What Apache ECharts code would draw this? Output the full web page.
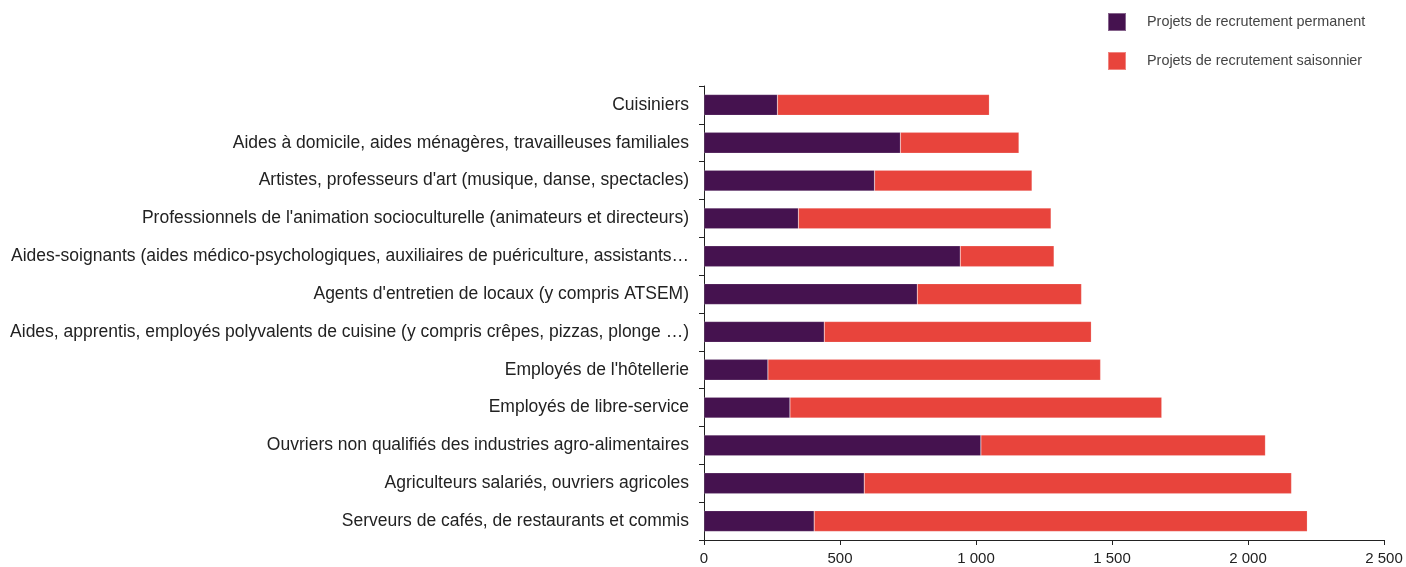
<!DOCTYPE html>
<html><head><meta charset="utf-8">
<script src="https://cdn.jsdelivr.net/npm/echarts@6/dist/echarts.min.js"></script>
<style>html,body{margin:0;padding:0;background:#fff}#c{width:1406px;height:567px}</style>
</head><body><div id="c"></div>
<script>
const categories = [
  "Cuisiniers",
  "Aides à domicile, aides ménagères, travailleuses familiales",
  "Artistes, professeurs d'art (musique, danse, spectacles)",
  "Professionnels de l'animation socioculturelle (animateurs et directeurs)",
  "Aides-soignants (aides médico-psychologiques, auxiliaires de puériculture, assistants…",
  "Agents d'entretien de locaux (y compris ATSEM)",
  "Aides, apprentis, employés polyvalents de cuisine (y compris crêpes, pizzas, plonge …)",
  "Employés de l'hôtellerie",
  "Employés de libre-service",
  "Ouvriers non qualifiés des industries agro-alimentaires",
  "Agriculteurs salariés, ouvriers agricoles",
  "Serveurs de cafés, de restaurants et commis"
];
const permanent = [270, 722, 627, 347, 942, 784, 442, 235, 316, 1018, 589, 405];
const saisonnier = [779, 436, 579, 929, 345, 604, 982, 1223, 1367, 1046, 1571, 1813];
const xTicks = [0, 500, 1000, 1500, 2000, 2500];
const seriesNames = ["Projets de recrutement permanent", "Projets de recrutement saisonnier"];

const chart = echarts.init(document.getElementById('c'), null, {renderer: 'canvas'});
chart.setOption({
  animation: false,
  legend: {
    orient: 'vertical', left: 1107, top: 12, padding: 0,
    itemWidth: 18, itemHeight: 18, itemGap: 19,
    icon: 'rect',
    textStyle: {fontFamily: "'Liberation Sans Narrow', 'Liberation Sans', Arial, sans-serif", fontSize: 14.4, color: '#444', padding: [0,0,0,16], lineHeight: 18},
    data: seriesNames
  },
  grid: {left: 704, right: 22, top: 86, bottom: 27, containLabel: false},
  xAxis: {
    type: 'value', min: 0, max: 2500, interval: 500,
    axisLine: {show: true, lineStyle: {color: '#222'}},
    axisTick: {show: true, length: 5, lineStyle: {color: '#222'}},
    splitLine: {show: false},
    axisLabel: {color: '#222', fontSize: 15, fontFamily: "'Liberation Sans', Arial, sans-serif", margin: 11,
      formatter: v => xTicks.includes(v) ? String(v).replace(/\B(?=(\d{3})+(?!\d))/g, ' ') : ''}
  },
  yAxis: {
    type: 'category', data: categories, inverse: true,
    axisLine: {show: true, lineStyle: {color: '#222'}},
    axisTick: {show: true, length: 5, lineStyle: {color: '#222'}},
    axisLabel: {color: '#222', fontSize: 17.5, fontFamily: "'Liberation Sans', Arial, sans-serif", margin: 15}
  },
  series: [
    {name: seriesNames[0], type: 'bar', stack: 't', data: permanent, barWidth: '55%',
     itemStyle: {color: '#45124f', borderColor: 'rgba(255,255,255,0.35)', borderWidth: 0.5}},
    {name: seriesNames[1], type: 'bar', stack: 't', data: saisonnier, barWidth: '55%',
     itemStyle: {color: '#e8443c', borderColor: 'rgba(255,255,255,0.35)', borderWidth: 0.5}}
  ]
});
</script></body></html>
